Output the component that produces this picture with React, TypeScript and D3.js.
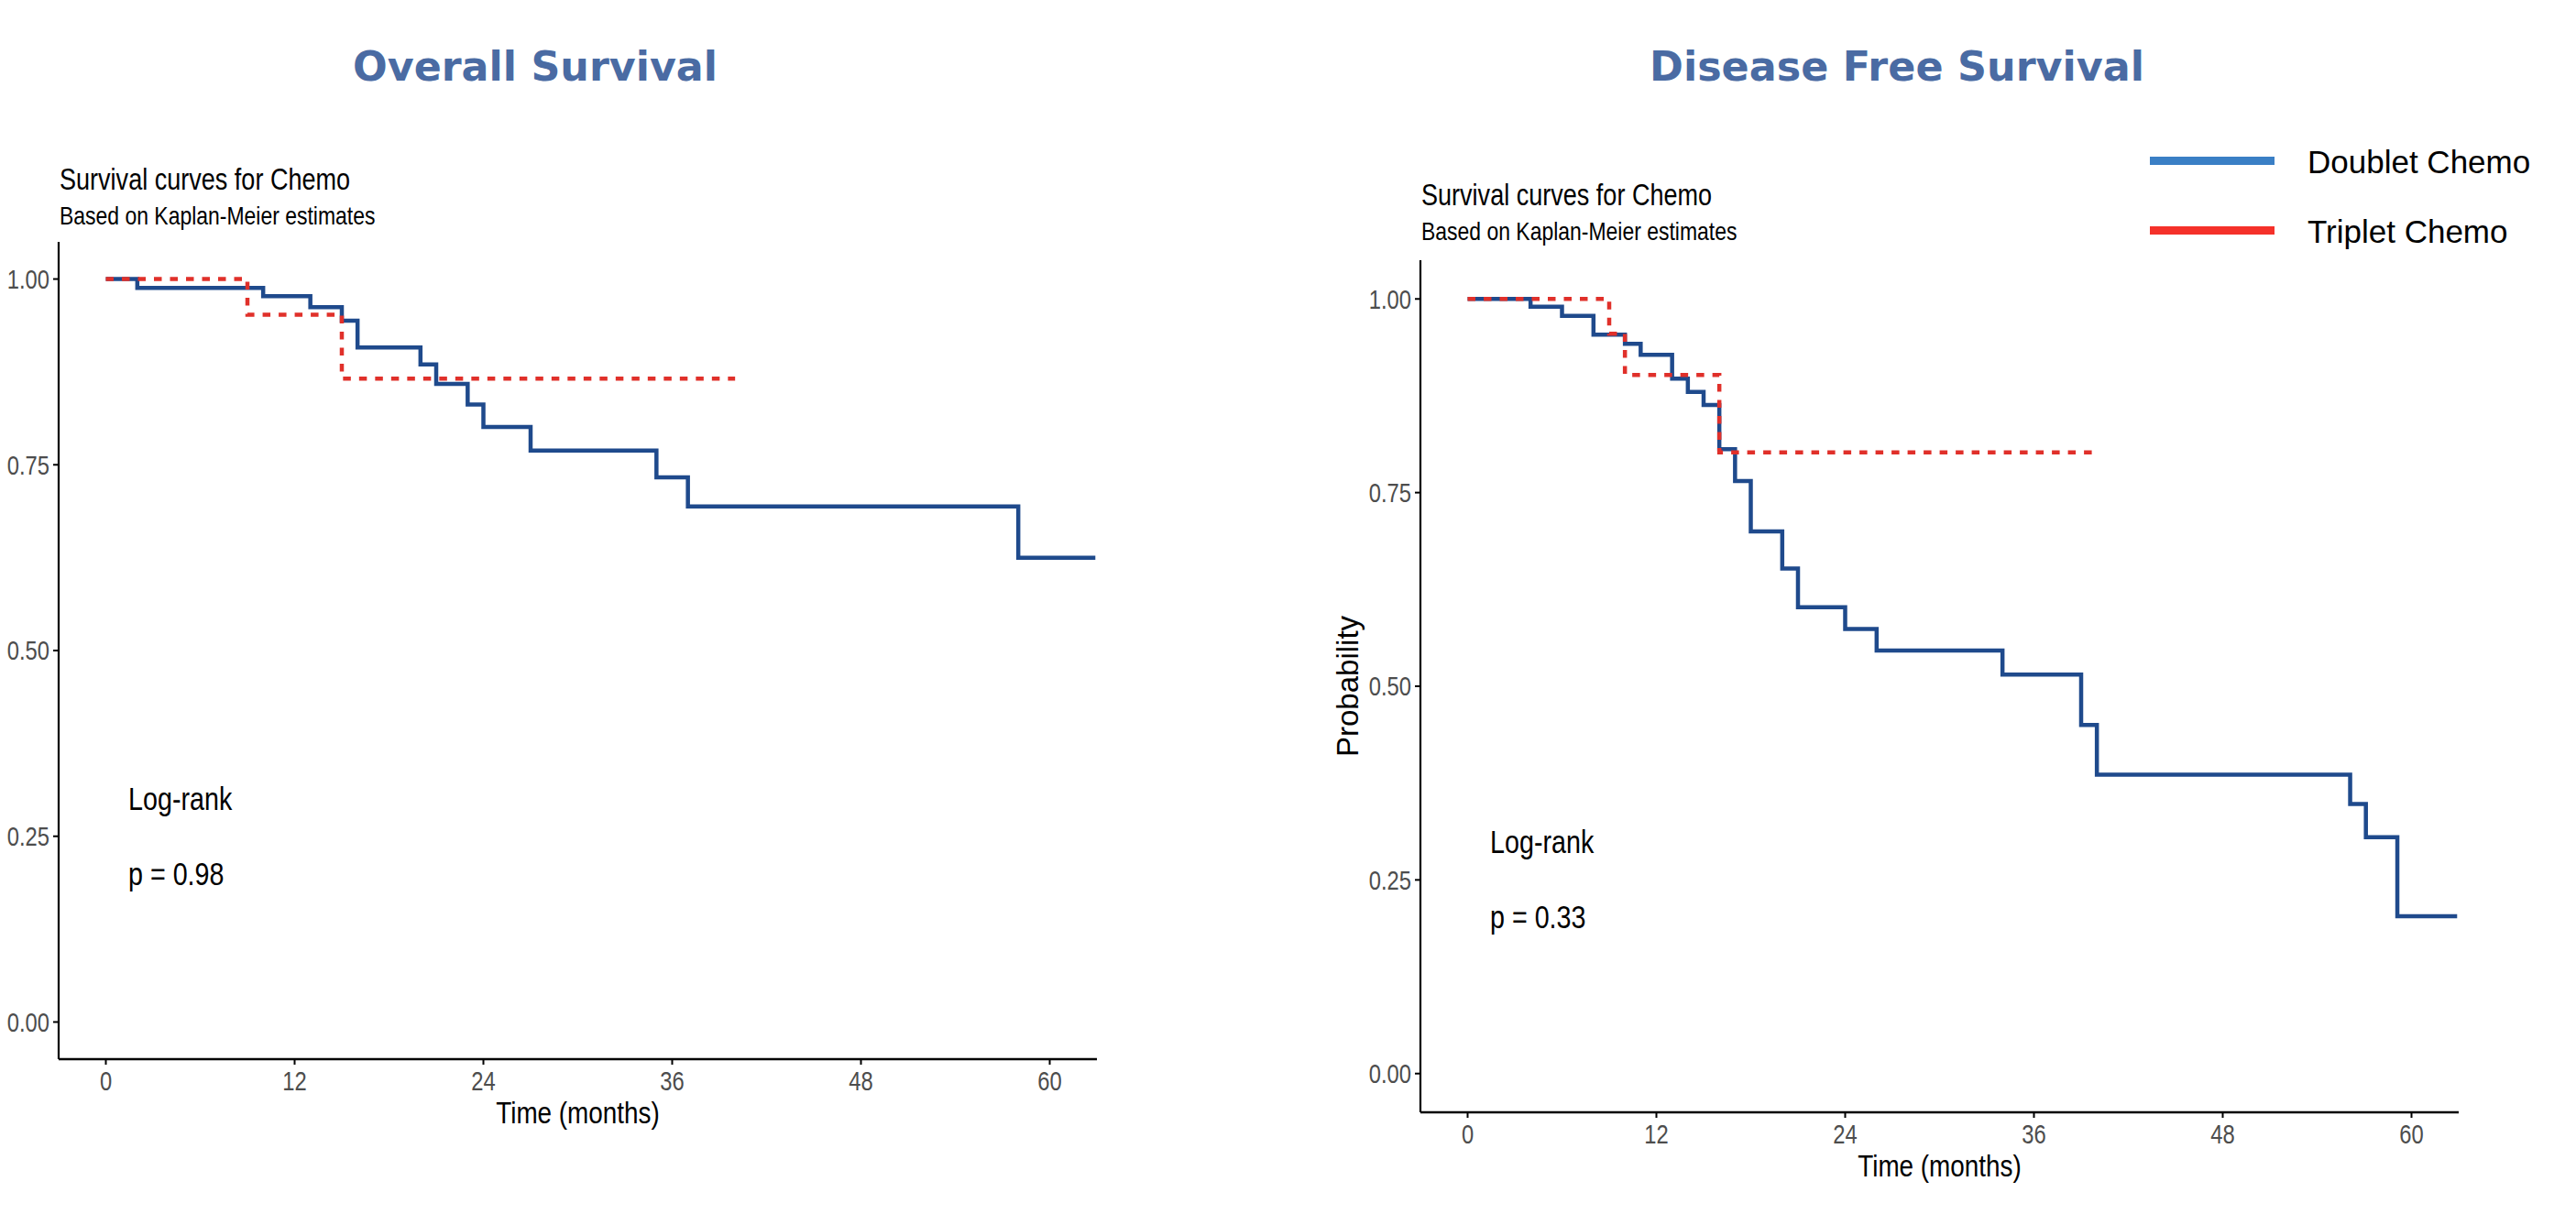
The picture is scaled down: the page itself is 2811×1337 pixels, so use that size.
import { line, curveStepAfter, scaleLinear } from "d3";
import type { ReactNode } from "react";

const monthTicks = [0, 12, 24, 36, 48, 60];
const probTicks = [0, 0.25, 0.5, 0.75, 1];
const probLabels = ["0.00", "0.25", "0.50", "0.75", "1.00"];

const groups = ["Doublet Chemo", "Triplet Chemo"];

// Overall survival
const osDoubletTime = [0, 2, 10, 13, 15, 16, 20, 21, 23, 24, 27, 35, 37, 58, 62.9];
const osDoubletSurv = [1, 0.988, 0.977, 0.962, 0.944, 0.908, 0.885, 0.859, 0.831, 0.801, 0.769, 0.733, 0.694, 0.625, 0.625];
const osTripletTime = [0, 9, 15, 40];
const osTripletSurv = [1, 0.952, 0.866, 0.866];

// Disease free survival
const dfsDoubletTime = [0, 4, 6, 8, 10, 11, 13, 14, 15, 16, 17, 18, 20, 21, 24, 26, 34, 39, 40, 56.1, 57.1, 59.1, 62.9];
const dfsDoubletSurv = [1, 0.99, 0.978, 0.954, 0.942, 0.928, 0.897, 0.88, 0.863, 0.806, 0.765, 0.7, 0.652, 0.602, 0.574, 0.546, 0.515, 0.45, 0.386, 0.348, 0.305, 0.203, 0.203];
const dfsTripletTime = [0, 9, 10, 16, 40];
const dfsTripletSurv = [1, 0.955, 0.902, 0.802, 0.802];

const pValues = ["p = 0.98", "p = 0.33"];

const SANS = "'Liberation Sans', Arial, sans-serif";
const TITLE_FONT = "'DejaVu Sans', Verdana, sans-serif";

const BLUE = "#1f4a8c";
const RED = "#e0302a";

type Pt = { t: number; s: number };
const zip = (t: number[], s: number[]): Pt[] => t.map((d, i) => ({ t: d, s: s[i] }));

// no narrow font installed, so squeeze Liberation Sans horizontally
const Narrow = ({
  x,
  y,
  size,
  anchor = "start",
  fill = "#000",
  dy,
  children,
}: {
  x: number;
  y: number;
  size: number;
  anchor?: string;
  fill?: string;
  dy?: string;
  children: ReactNode;
}) => (
  <text
    transform={`translate(${x},${y}) scale(0.82,1)`}
    dy={dy}
    textAnchor={anchor}
    fontFamily={SANS}
    fontSize={size}
    fill={fill}
  >
    {children}
  </text>
);

type PanelProps = {
  title: string;
  titleX: number;
  titleW: number;
  left: number;
  right: number;
  top: number;
  bottom: number;
  subY: number;
  doublet: Pt[];
  triplet: Pt[];
  pText: string;
  logY: number;
  yLabel?: boolean;
};

const Panel = ({ title, titleX, titleW, left, right, top, bottom, subY, doublet, triplet, pText, logY, yLabel }: PanelProps) => {
  const x = scaleLinear().domain([-3, 63]).range([left, right]);
  const y = scaleLinear().domain([-0.05, 1.05]).range([bottom, top]);
  const path = line<Pt>()
    .x((d) => x(d.t))
    .y((d) => y(d.s))
    .curve(curveStepAfter);

  return (
    <g>
      <text
        x={titleX}
        y={88}
        textAnchor="middle"
        fontFamily={TITLE_FONT}
        fontWeight="bold"
        fontSize={45}
        fill="#4a6ba3"
        textLength={titleW}
        lengthAdjust="spacingAndGlyphs"
      >
        {title}
      </text>
      <Narrow x={left + 1} y={subY} size={33}>
        Survival curves for Chemo
      </Narrow>
      <Narrow x={left + 1} y={subY + 38} size={28}>
        Based on Kaplan-Meier estimates
      </Narrow>

      {/* axes */}
      <line x1={left} x2={left} y1={top} y2={bottom} stroke="#000" strokeWidth={2.2} />
      <line x1={left} x2={right} y1={bottom} y2={bottom} stroke="#000" strokeWidth={2.4} />
      {probTicks.map((v, i) => (
        <g key={v}>
          <line x1={left - 6} x2={left} y1={y(v)} y2={y(v)} stroke="#000" strokeWidth={2} />
          <Narrow x={left - 10} y={y(v)} dy="0.36em" anchor="end" size={29} fill="#4d4d4d">
            {probLabels[i]}
          </Narrow>
        </g>
      ))}
      {monthTicks.map((m) => (
        <g key={m}>
          <line x1={x(m)} x2={x(m)} y1={bottom} y2={bottom + 6} stroke="#000" strokeWidth={2} />
          <Narrow x={x(m)} y={bottom + 34} anchor="middle" size={29} fill="#4d4d4d">
            {m}
          </Narrow>
        </g>
      ))}
      <Narrow x={(left + right) / 2} y={bottom + 70} anchor="middle" size={34}>
        Time (months)
      </Narrow>
      {yLabel && (
        <text
          transform={`translate(${left - 68},${(top + bottom) / 2}) rotate(-90)`}
          textAnchor="middle"
          fontFamily={SANS}
          fontSize={33}
          fill="#000"
        >
          Probability
        </text>
      )}

      {/* curves */}
      <path d={path(doublet) ?? ""} fill="none" stroke={BLUE} strokeWidth={4.5} />
      <path d={path(triplet) ?? ""} fill="none" stroke={RED} strokeWidth={4.5} strokeDasharray="8.5 9" />

      <Narrow x={left + 76} y={logY} size={35}>
        Log-rank
      </Narrow>
      <Narrow x={left + 76} y={logY + 82} size={35}>
        {pText}
      </Narrow>
    </g>
  );
};

export default function App() {
  return (
    <svg
      width={2811}
      height={1337}
      style={{ position: "absolute", left: 0, top: 0, background: "#fff" }}
    >
      <rect width={2811} height={1337} fill="#fff" />
      <Panel
        title="Overall Survival"
        titleX={584}
        titleW={398}
        left={64}
        right={1197}
        top={264}
        bottom={1156}
        subY={207}
        doublet={zip(osDoubletTime, osDoubletSurv)}
        triplet={zip(osTripletTime, osTripletSurv)}
        pText={pValues[0]}
        logY={884}
      />
      <Panel
        title="Disease Free Survival"
        titleX={2070}
        titleW={540}
        left={1550}
        right={2683}
        top={284}
        bottom={1214}
        subY={224}
        doublet={zip(dfsDoubletTime, dfsDoubletSurv)}
        triplet={zip(dfsTripletTime, dfsTripletSurv)}
        pText={pValues[1]}
        logY={931}
        yLabel
      />

      {/* legend */}
      {groups.map((g, i) => (
        <g key={g}>
          <line
            x1={2346}
            x2={2482}
            y1={175.5 + i * 76}
            y2={175.5 + i * 76}
            stroke={i === 0 ? "#3a7fc5" : "#f5312a"}
            strokeWidth={9}
          />
          <text x={2518} y={189 + i * 76} fontFamily={SANS} fontSize={35} fill="#000">
            {g}
          </text>
        </g>
      ))}
    </svg>
  );
}
